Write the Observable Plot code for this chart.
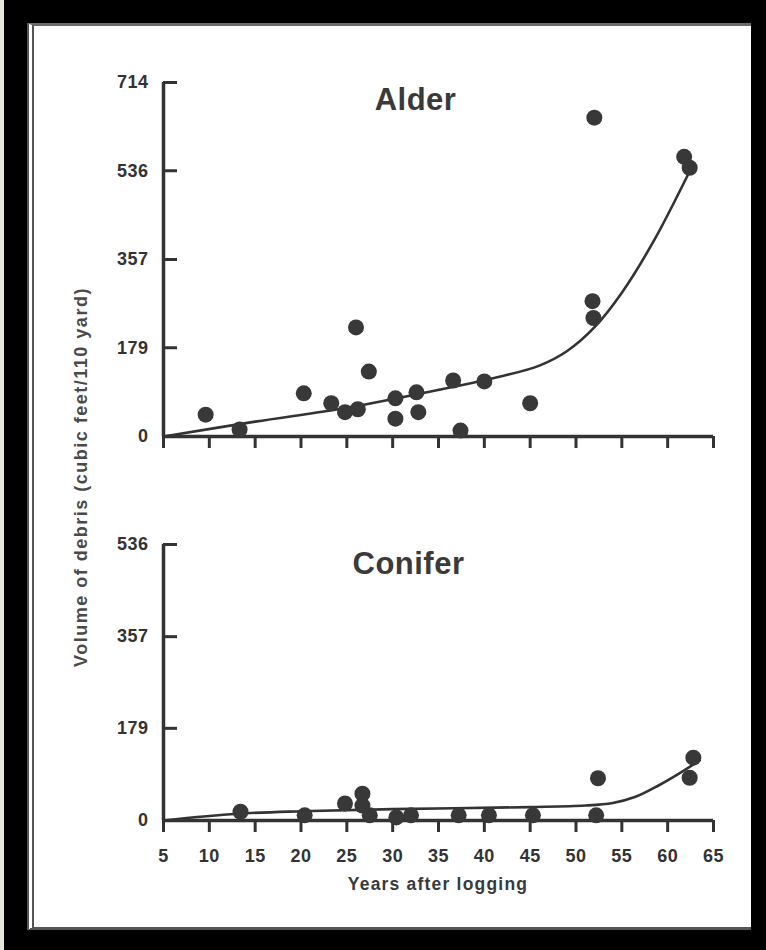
<!DOCTYPE html>
<html>
<head>
<meta charset="utf-8">
<script src="https://cdn.jsdelivr.net/npm/d3@7"></script>
<script src="https://cdn.jsdelivr.net/npm/@observablehq/plot@0.6"></script>
<style>
html, body { margin: 0; padding: 0; background: #000; }
#page { position: relative; width: 766px; height: 950px; background: #000; overflow: hidden; font-family: "Liberation Sans", Arial, sans-serif; }
#strip { position: absolute; left: 0; top: 0; width: 4px; height: 950px; background: #e8e7dc; }
#paper { position: absolute; left: 27px; top: 23px; width: 724px; height: 907px; background: #fff; box-sizing: border-box; border-left: 7px double #555; border-top: 3px solid #6a6a6a; border-bottom: 3px solid #555; }
#alder { position: absolute; left: 0; top: 0; }
#conifer { position: absolute; left: 0; top: 470px; }
.ytitle { position: absolute; left: 81px; top: 477px; transform: translate(-50%, -50%) rotate(-90deg); white-space: nowrap; font-weight: bold; font-size: 18px; letter-spacing: 1.5px; color: #4a4a4a; }
.xtitle { position: absolute; left: 438px; top: 884px; transform: translate(-50%, -50%); white-space: nowrap; font-weight: bold; font-size: 17.5px; letter-spacing: 1.2px; color: #3a3a3a; }
</style>
</head>
<body>
<div id="page">
  <div id="strip"></div>
  <div id="paper"></div>
  <div id="alder"></div>
  <div id="conifer"></div>
  <div class="ytitle">Volume of debris (cubic feet/110 yard)</div>
  <div class="xtitle">Years after logging</div>
</div>
<script>
// ---- data ----
const xTicks = [5, 10, 15, 20, 25, 30, 35, 40, 45, 50, 55, 60, 65];
const alderTicks = [0, 179, 357, 536, 714];
const coniferTicks = [0, 179, 357, 536];

const alderYears  = [9.6, 13.3, 20.3, 23.3, 24.8, 26.2, 26.0, 27.4, 30.3, 30.3, 32.6, 32.8, 36.6, 37.4, 40.0, 45.0, 52.0, 51.8, 51.9, 61.8, 62.4];
const alderVolume = [44, 14, 87, 67, 49, 55, 220, 131, 77, 36, 89, 49, 113, 12, 111, 67, 643, 273, 239, 564, 542];
const alderFitYears  = [5, 15, 25, 35, 42, 46, 49, 52, 55, 58.5, 62.4];
const alderFitVolume = [0, 30, 58, 94, 122, 143, 172, 220, 290, 395, 535];

const coniferYears  = [13.4, 20.4, 24.8, 26.7, 26.7, 27.5, 30.4, 32.0, 37.2, 40.5, 45.3, 52.4, 52.2, 62.8, 62.4];
const coniferVolume = [17, 10, 33, 52, 29, 10, 6, 10, 10, 10, 10, 82, 10, 122, 83];
const coniferFitYears  = [5, 13, 20, 30, 45, 51, 54, 56.5, 59, 61.5, 63.5];
const coniferFitVolume = [0, 13, 18, 22, 26, 29, 34, 46, 68, 94, 117];

const alderPts = alderYears.map((x, i) => ({x, y: alderVolume[i]}));
const alderFit = alderFitYears.map((x, i) => ({x, y: alderFitVolume[i]}));
const coniferPts = coniferYears.map((x, i) => ({x, y: coniferVolume[i]}));
const coniferFit = coniferFitYears.map((x, i) => ({x, y: coniferFitVolume[i]}));

const ink = "#333";
const baseStyle = {background: "transparent", fontFamily: "'Liberation Sans', Arial, sans-serif", fontSize: "18px", fontWeight: "bold", color: ink, overflow: "visible", letterSpacing: "0.5px"};

function panel({title, pts, fit, yTicks, yMax, height, marginTop, marginBottom, showXLabels, titleDx, titleDy}) {
  return Plot.plot({
    width: 766, height,
    marginLeft: 163, marginRight: 53, marginTop, marginBottom,
    style: baseStyle,
    x: {domain: [5, 65]},
    y: {domain: [0, yMax]},
    marks: [
      Plot.axisX({ticks: xTicks, tickSize: 12, strokeWidth: 3, tickPadding: 17, label: null,
        tickFormat: showXLabels ? (d => String(d)) : (() => "")}),
      Plot.axisY({ticks: yTicks, tickSize: 0, tickPadding: 15, label: null, tickFormat: d => String(d)}),
      Plot.axisY({ticks: yTicks, tickSize: -14, strokeWidth: 3, label: null, tickFormat: () => ""}),
      Plot.ruleX([5], {strokeWidth: 3.5, stroke: ink}),
      Plot.ruleY([0], {strokeWidth: 3.5, stroke: ink}),
      Plot.line(fit, {x: "x", y: "y", curve: "catmull-rom", stroke: ink, strokeWidth: 2.6}),
      Plot.dot(pts, {x: "x", y: "y", r: 8, fill: "#383838", stroke: "none"}),
      Plot.text([title], {frameAnchor: "top", dx: titleDx, dy: titleDy, fontSize: 31, fontWeight: "bold", fill: "#3a3a3a", letterSpacing: "1.5px"})
    ]
  });
}

document.getElementById("alder").append(panel({
  title: "Alder", pts: alderPts, fit: alderFit, yTicks: alderTicks, yMax: 714,
  height: 470, marginTop: 82, marginBottom: 34, showXLabels: false, titleDx: -23, titleDy: 5
}));
document.getElementById("conifer").append(panel({
  title: "Conifer", pts: coniferPts, fit: coniferFit, yTicks: coniferTicks, yMax: 536,
  height: 480, marginTop: 74, marginBottom: 130, showXLabels: true, titleDx: -30, titleDy: 7
}));
</script>
</body>
</html>
